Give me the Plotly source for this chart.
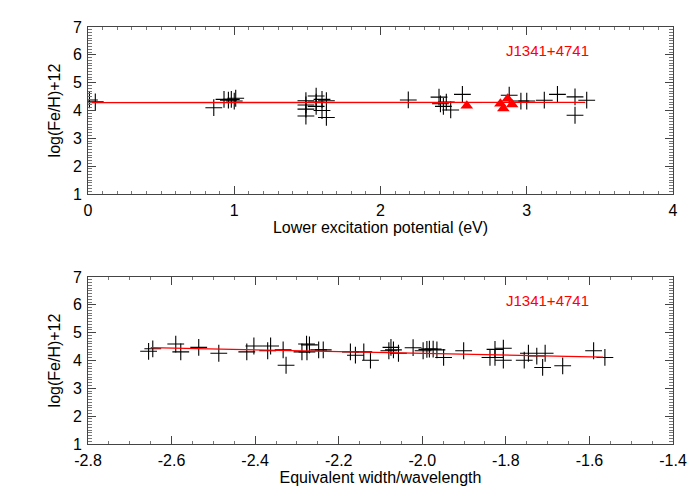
import plotly.graph_objects as go

# upper panel: abundance vs lower excitation potential
ep_x = [0.01, 0.05, 0.86, 0.93, 0.96, 0.98, 1.00, 1.01,
        1.49, 1.49, 1.49, 1.49, 1.56, 1.56, 1.56, 1.60, 1.60, 1.63, 1.63,
        2.19, 2.40, 2.41, 2.43, 2.45, 2.48, 2.56,
        2.88, 2.96, 3.00, 3.12, 3.21, 3.33, 3.33, 3.41]
ep_y = [4.38, 4.31, 4.10, 4.40, 4.37, 4.40, 4.34, 4.44,
        4.35, 4.20, 4.05, 3.80, 4.52, 4.30, 4.15, 4.40, 4.00, 4.35, 3.75,
        4.38, 4.48, 4.24, 4.15, 4.30, 4.02, 4.58,
        4.55, 4.34, 4.34, 4.37, 4.58, 4.49, 3.83, 4.37]
ep_tri_x = [2.59, 2.82, 2.84, 2.87, 2.90]
ep_tri_y = [4.17, 4.24, 4.07, 4.42, 4.22]
ep_fit_x = [0.0, 3.40]
ep_fit_y = [4.285, 4.295]

# lower panel: abundance vs reduced equivalent width
rw_x = [-2.655, -2.645, -2.59, -2.578, -2.535, -2.487, -2.42, -2.403, -2.37, -2.363,
        -2.333, -2.326, -2.288, -2.277, -2.276, -2.27, -2.248, -2.237, -2.172, -2.16,
        -2.14, -2.124, -2.08, -2.075, -2.069, -2.057, -2.022, -1.998, -1.989, -1.983,
        -1.974, -1.965, -1.949, -1.901, -1.838, -1.826, -1.826, -1.806, -1.806, -1.756,
        -1.746, -1.726, -1.712, -1.706, -1.664, -1.59, -1.563]
rw_y = [4.33, 4.42, 4.59, 4.31, 4.47, 4.26, 4.31, 4.52, 4.35, 4.52,
        4.38, 3.83, 4.31, 4.59, 4.31, 4.56, 4.38, 4.38, 4.31, 4.19,
        4.31, 4.01, 4.35, 4.47, 4.38, 4.26, 4.46, 4.35, 4.40, 4.41,
        4.41, 4.38, 4.11, 4.35, 4.11, 4.40, 4.11, 4.44, 4.01, 4.01,
        4.26, 4.16, 3.75, 4.26, 3.81, 4.35, 4.11]
rw_fit_x = [-2.65, -1.567]
rw_fit_y = [4.46, 4.12]

rw_ticks = [-2.8, -2.6, -2.4, -2.2, -2.0, -1.8, -1.6, -1.4]
rw_ticklabels = ['-2.8', '-2.6', '-2.4', '-2.2', '-2.0', '-1.8', '-1.6', '-1.4']

star = 'J1341+4741'
ytitle = 'log(Fe/H)+12'

font = dict(family='Liberation Sans, Arial, sans-serif', size=16, color='black')
plus = dict(symbol='cross-thin', size=12, line=dict(color='black', width=1.1))

fig = go.Figure()
fig.add_trace(go.Scatter(x=ep_x, y=ep_y, mode='markers', marker=plus, xaxis='x', yaxis='y'))
fig.add_trace(go.Scatter(x=ep_tri_x, y=ep_tri_y, mode='markers',
                         marker=dict(symbol='triangle-up', size=11, color='red'), xaxis='x', yaxis='y'))
fig.add_trace(go.Scatter(x=ep_fit_x, y=ep_fit_y, mode='lines',
                         line=dict(color='red', width=1.3), xaxis='x', yaxis='y'))
fig.add_trace(go.Scatter(x=rw_x, y=rw_y, mode='markers', marker=plus, xaxis='x2', yaxis='y2'))
fig.add_trace(go.Scatter(x=rw_fit_x, y=rw_fit_y, mode='lines',
                         line=dict(color='red', width=1.3), xaxis='x2', yaxis='y2'))

axis_style = dict(showgrid=False, zeroline=False, showline=True, linecolor='#444', linewidth=1,
                  mirror='ticks', ticks='inside', ticklen=8, tickcolor='#444',
                  tickfont=font, title_font=font, automargin=False)

# page body adds an 8px offset, so the figure is a bit smaller than the window
fig.update_layout(
    width=692, height=492, showlegend=False,
    plot_bgcolor='white', paper_bgcolor='white', font=font,
    margin=dict(l=80, r=27, t=19, b=56),
    xaxis=dict(axis_style, domain=[0, 1], anchor='y', range=[0, 4], dtick=1,
               ticklabelstandoff=2,
               minor=dict(dtick=0.1, ticks='inside', ticklen=3, tickcolor='#777'),
               title=dict(text='Lower excitation potential (eV)', standoff=0)),
    yaxis=dict(axis_style, domain=[0.5995, 1], anchor='x', range=[1, 7], dtick=1,
               ticklabelstandoff=2,
               minor=dict(dtick=0.1, ticks='inside', ticklen=4, tickcolor='#777'),
               title=dict(text=ytitle, standoff=8)),
    xaxis2=dict(axis_style, domain=[0, 1], anchor='y2', range=[-2.8, -1.4],
                tickvals=rw_ticks, ticktext=rw_ticklabels, ticklabelstandoff=2,
                minor=dict(dtick=0.05, ticks='inside', ticklen=3, tickcolor='#777'),
                title=dict(text='Equivalent width/wavelength', standoff=0)),
    yaxis2=dict(axis_style, domain=[0, 0.4005], anchor='x2', range=[1, 7], dtick=1,
                ticklabelstandoff=2,
                minor=dict(dtick=0.1, ticks='inside', ticklen=4, tickcolor='#777'),
                title=dict(text=ytitle, standoff=8)),
)

for xr, yr in (('x domain', 'y domain'), ('x2 domain', 'y2 domain')):
    fig.add_annotation(text=star, xref=xr, yref=yr, x=0.785, y=0.858, showarrow=False,
                       xanchor='center', yanchor='middle',
                       font=dict(family='Liberation Sans, Arial, sans-serif', size=15, color='red'))

fig.write_html("out.html")
